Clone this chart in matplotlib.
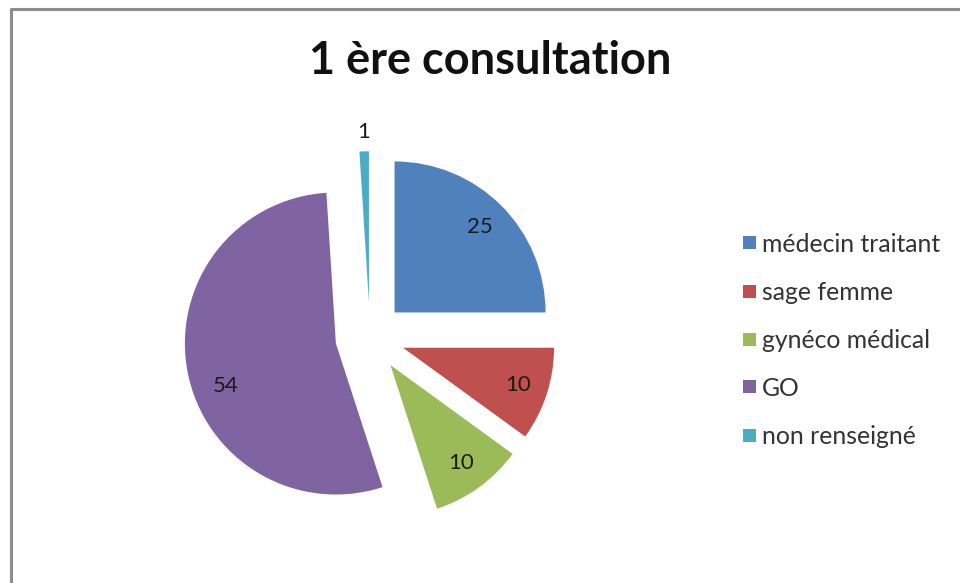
import numpy as np
import matplotlib
matplotlib.use("Agg")
import matplotlib.pyplot as plt
from matplotlib.patches import Rectangle
from matplotlib.lines import Line2D

title = "1 ère consultation"
categories = ["médecin traitant", "sage femme", "gynéco médical", "GO", "non renseigné"]
values = [25, 10, 10, 54, 1]
colors = ["#4F81BD", "#C0504D", "#9BBB59", "#8064A2", "#4BACC6"]

FONT = ["Lato", "DejaVu Sans"]
plt.rcParams['font.family'] = FONT

W, H = 960, 583
fig = plt.figure(figsize=(W / 100, H / 100), dpi=100)

# border (top and left edges visible)
fig.add_artist(Line2D([11 / W, 11 / W, 1.0], [0.0, 1 - 9 / H, 1 - 9 / H],
                      transform=fig.transFigure, color="#8c8c8c", lw=2.2))

# pie axes: center (370,337) px, radius 151 px, limits +-1.5
cx, cy, r = 370, 337, 151
half = 1.5 * r
ax = fig.add_axes([(cx - half) / W, (H - cy - half) / H, 2 * half / W, 2 * half / H])
explode = [0.23] * len(values)
wedges, _ = ax.pie(values, colors=colors, startangle=90, counterclock=False,
                   explode=explode, radius=1.0,
                   wedgeprops=dict(linewidth=0))
ax.set_xlim(-1.5, 1.5)
ax.set_ylim(-1.5, 1.5)
ax.set_aspect("equal")
ax.axis("off")

for w, v in zip(wedges, values):
    mid = (w.theta1 + w.theta2) / 2
    d = 0.8
    if v > 50:
        mid += 10.5
        d = 0.78
    if v < 5:
        d = 1.13
    ang = np.deg2rad(mid)
    ccx, ccy = w.center
    ax.text(ccx + d * np.cos(ang), ccy + d * np.sin(ang), str(v),
            ha="center", va="center", fontsize=16, color="#1a1a1a")

fig.text(490 / W, 1 - 61 / H, title, ha="center", va="center",
         fontsize=32.5, fontweight="bold", color="#111111")

# legend
ys = [243, 292, 340, 387, 436]
for lab, col, y in zip(categories, colors, ys):
    fig.add_artist(Rectangle((743 / W, 1 - (y + 6) / H), 13 / W, 13 / H,
                             transform=fig.transFigure, color=col, lw=0))
    fig.text(762 / W, 1 - (y + 1) / H, lab, ha="left", va="center",
             fontsize=17.8, color="#333333")

fig.savefig("out.png", dpi=100)
